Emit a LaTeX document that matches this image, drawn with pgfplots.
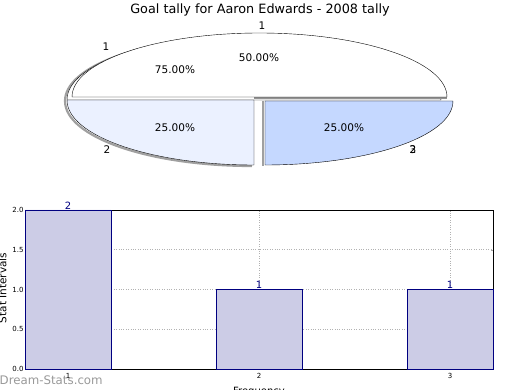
\documentclass[border=0pt]{standalone}
\usepackage{fontspec}
\setmainfont{DejaVu Sans}
\usepackage{pgfplots}
\pgfplotsset{compat=1.18}
\definecolor{barfill}{RGB}{204,204,230}
\definecolor{baredge}{RGB}{0,0,128}
\definecolor{sliceA}{RGB}{235,241,255}
\definecolor{sliceB}{RGB}{197,216,255}
\definecolor{shad}{RGB}{120,120,120}
\begin{document}
\begin{tikzpicture}
\useasboundingbox (0,0) rectangle (520pt,390pt);
% ---------- pie (pixel coordinates of the reference) ----------
\begin{axis}[at={(0,0)}, anchor=south west, width=520pt, height=390pt,
  scale only axis, xmin=0, xmax=520, ymin=0, ymax=390, y dir=reverse,
  hide axis, clip=false]
\node[font=\fontsize{12.8}{14}\selectfont] at (axis cs:260,10) {Goal tally for Aaron Edwards - 2008 tally};
% ghost slice (75%) with shadow
\draw[shad!70, line width=2.2pt] (axis cs:65,101) arc[start angle=180, end angle=100, x radius=187pt, y radius=65pt];
\filldraw[fill=white, draw=black, line width=0.4pt] (axis cs:254,100) -- (axis cs:67,100) arc[start angle=180, end angle=0, x radius=187pt, y radius=65pt] -- cycle;
% top slice 50%
\draw[shad!80, line width=1.6pt] (axis cs:254,98) -- (axis cs:447,98);
\filldraw[fill=white, draw=black, line width=0.4pt] (axis cs:259.5,97) -- (axis cs:72,97) arc[start angle=180, end angle=0, x radius=187.5pt, y radius=64pt] -- cycle;
% bottom-left slice 25%
\draw[shad!70, line width=2.2pt] (axis cs:65,101) arc[start angle=180, end angle=270, x radius=187pt, y radius=65pt];
\filldraw[fill=sliceA, draw=black, line width=0.4pt] (axis cs:254,100) -- (axis cs:67,100) arc[start angle=180, end angle=270, x radius=187pt, y radius=65pt] -- cycle;
% bottom-right slice 25% (exploded)
\draw[shad!70, line width=2.2pt] (axis cs:263,101) -- (axis cs:263,166);
\filldraw[fill=sliceB, draw=black, line width=0.4pt] (axis cs:265,101) -- (axis cs:453,101) arc[start angle=0, end angle=-90, x radius=188pt, y radius=64pt] -- cycle;
% labels
\begin{scope}[font=\fontsize{10.5}{12}\selectfont]
\node at (axis cs:262,26) {1};
\node at (axis cs:106,47) {1};
\node at (axis cs:259,58) {50.00\%};
\node at (axis cs:175,70) {75.00\%};
\node at (axis cs:175,128) {25.00\%};
\node at (axis cs:344,128) {25.00\%};
\node at (axis cs:107,150) {2};
\node at (axis cs:413,150) {2};
\node at (axis cs:413,150) {3};
\end{scope}
% outer texts of the bar chart
\node[font=\fontsize{10.5}{12}\selectfont, rotate=90, anchor=base] at (axis cs:6.3,288) {Stat Intervals};
\node[font=\fontsize{10}{12}\selectfont, anchor=north] at (axis cs:259,384) {Frequency};
\node[font=\fontsize{11.8}{13}\selectfont, text=gray!80, anchor=west, inner sep=0pt] at (axis cs:-0.5,380) {Dream-Stats.com};
\end{axis}
% ---------- bar chart ----------
\begin{axis}[at={(25pt,21pt)}, anchor=south west, width=468pt, height=159pt,
  scale only axis, xmin=0.775, xmax=3.225, ymin=0, ymax=2,
  xtick={1,2,3}, ytick={0,0.5,1,1.5,2},
  yticklabel style={/pgf/number format/fixed, /pgf/number format/fixed zerofill, /pgf/number format/precision=1},
  /pgf/number format/assume math mode=true,
  tick label style={font=\fontsize{7}{8}\selectfont},
  xticklabel style={yshift=-1pt},
  yticklabel style={xshift=2pt},
  grid=major, major grid style={gray!60, dotted, line width=0.6pt},
  tick style={gray!70}, major tick length=2pt,
  axis line style={black, line width=0.6pt},
  nodes near coords, nodes near coords style={font=\fontsize{10}{11}\selectfont, text=baredge, inner sep=0.5pt},
  clip=false]
\addplot[ybar, bar width=0.45, fill=barfill, draw=baredge, line width=0.5pt] coordinates {(1,2) (2,1) (3,1)};
\end{axis}
\end{tikzpicture}
\end{document}
